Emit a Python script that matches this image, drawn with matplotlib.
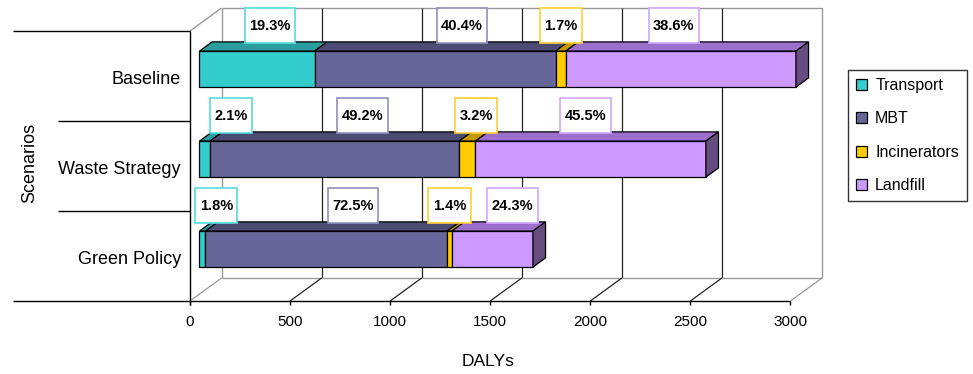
import matplotlib
matplotlib.use("Agg")
import matplotlib.pyplot as plt
from matplotlib import font_manager
from matplotlib.patches import Polygon, Patch
from matplotlib.path import Path

# ---- data (DALYs per scenario and source) ----
scenarios = ["Baseline", "Waste Strategy", "Green Policy"]
sources = ["Transport", "MBT", "Incinerators", "Landfill"]
transport = [575, 53, 30]
mbt = [1204, 1245, 1208]
incinerators = [51, 81, 23]
landfill = [1150, 1151, 405]
x_ticks = [0, 500, 1000, 1500, 2000, 2500, 3000]

series = [transport, mbt, incinerators, landfill]

# ---- styles ----
face_colors = ["#33CCCC", "#666699", "#FFCC00", "#CC99FF"]
top_colors = ["#2A9E9E", "#4B4B73", "#C49A00", "#9C6FCC"]
end_colors = ["#237F7F", "#3F3F60", "#A07E00", "#664D80"]
label_edges = ["#55DDDD", "#9090C0", "#FFD033", "#D0A8FF"]
# horizontal nudges (pixels) of the percentage boxes
label_nudge = [[13, 27, 0, -7], [26, 28, 9, -5], [14, 27, 0, 20]]

names = {f.name for f in font_manager.fontManager.ttflist}
FONT = "DejaVu Sans"
for cand in ["Liberation Sans Narrow", "Liberation Sans", "Arial"]:
    if cand in names:
        FONT = cand
        break
plt.rcParams["font.family"] = [FONT, "DejaVu Sans"]

W, H = 973, 374
fig = plt.figure(figsize=(W / 100, H / 100), dpi=100)
fig.patch.set_facecolor("white")

# front plane of the 3-D box
left, right, top, bottom = 190, 790.5, 31, 301
ax = fig.add_axes([left / W, 1 - bottom / H, (right - left) / W, (bottom - top) / H])
ax.set_xlim(0, 3000)
ax.set_ylim(2.5, -0.5)
ax.axis("off")

ux = 3000 / (right - left)      # data units per pixel (x)
uy = 3.0 / (bottom - top)       # data units per pixel (y, downward)
DX = 31.5 * ux                  # full depth offset
DY = -23 * uy
F0, F1 = 0.3, 0.7               # depth slice taken by the bars
BAR_H = 0.4

grid_dark = "#222222"
edge_gray = "#9A9A9A"


def line(xs, ys, color, lw=1.0, z=1):
    ax.plot(xs, ys, color=color, lw=lw, clip_on=False, zorder=z, solid_capstyle="butt")


def label_box(x0, y0, width, height, mutation_size):
    """Rectangle with a wider vertical than horizontal padding."""
    px, py = 0.3 * mutation_size, 0.72 * mutation_size
    return Path([(x0 - px, y0 - py), (x0 + width + px, y0 - py),
                 (x0 + width + px, y0 + height + py), (x0 - px, y0 + height + py),
                 (x0 - px, y0 - py)], closed=True)


y_top, y_bot = -0.5, 2.5
# back wall
line([DX, DX + 3000, DX + 3000], [y_top + DY, y_top + DY, y_bot + DY], edge_gray)
line([DX, DX], [y_top + DY, y_bot + DY], edge_gray)
for v in x_ticks[1:-1]:
    line([v + DX, v + DX], [y_top + DY, y_bot + DY], grid_dark, 0.9)
# floor
line([DX, DX + 3000], [y_bot + DY, y_bot + DY], edge_gray)
for v in x_ticks:
    c = grid_dark if 0 < v < 3000 else edge_gray
    line([v, v + DX], [y_bot, y_bot + DY], c, 0.9)
# left wall top edge
line([0, DX], [y_top, y_top + DY], edge_gray)

# front axes and category separators
line([0, 0], [y_top, y_bot + 4 * uy], "black", 1.0, 2)
line([-177 * ux, 3000], [y_bot, y_bot], "black", 1.0, 2)
line([-177 * ux, 0], [y_top, y_top], "black", 1.0, 2)
for b in [0.5, 1.5]:
    line([-132 * ux, 0], [b, b], "black", 1.0, 2)
for v in x_ticks:
    line([v, v], [y_bot, y_bot + 4 * uy], "black", 1.0, 2)
    ax.text(v, y_bot + 21 * uy, f"{v}", ha="center", va="center", fontsize=11, clip_on=False)

for i, name in enumerate(scenarios):
    ax.text(-9 * ux, i + 3 * uy, name, ha="right", va="center", fontsize=13)

ax.text(-160 * ux, (163 - top) * uy - 0.5, "Scenarios", rotation=90, ha="center", va="center", fontsize=13)
ax.text((488 - left) * ux, (361 - top) * uy - 0.5, "DALYs", ha="center", va="center", fontsize=12.5)


# 3-D stacked bars
def poly(pts, fc, z):
    ax.add_patch(Polygon(pts, closed=True, facecolor=fc, edgecolor="black",
                         lw=0.9, joinstyle="miter", clip_on=False, zorder=z))


for i in range(len(scenarios)):
    vals = [s[i] for s in series]
    total = sum(vals)
    y0, y1 = i - BAR_H / 2, i + BAR_H / 2
    fx, fy = F0 * DX, F0 * DY
    bx, by = F1 * DX, F1 * DY
    start = 0
    for k, v in enumerate(vals):
        end = start + v
        # top face
        poly([(start + fx, y0 + fy), (end + fx, y0 + fy), (end + bx, y0 + by), (start + bx, y0 + by)],
             top_colors[k], 3)
        # front face
        poly([(start + fx, y0 + fy), (end + fx, y0 + fy), (end + fx, y1 + fy), (start + fx, y1 + fy)],
             face_colors[k], 4)
        if k == len(vals) - 1:
            poly([(end + fx, y0 + fy), (end + bx, y0 + by), (end + bx, y1 + by), (end + fx, y1 + fy)],
                 end_colors[k], 4)
        # percentage label
        pct = 100.0 * v / total
        cx = (start + end) / 2 + fx + label_nudge[i][k] * ux
        cy = y0 + by - 16 * uy
        ax.text(cx, cy, f"{pct:.1f}%", ha="center", va="center", fontsize=10.5,
                fontweight="bold", zorder=6, clip_on=False,
                bbox=dict(boxstyle=label_box, facecolor="white",
                          edgecolor=label_edges[k], lw=1.2))
        start = end

handles = [Patch(facecolor=c, edgecolor="black", lw=0.9) for c in face_colors]
leg = fig.legend(handles, sources, loc="upper left", bbox_to_anchor=(848 / W, 1 - 70 / H),
                 frameon=True, fancybox=False, edgecolor="black", fontsize=11.5,
                 handlelength=0.7, handleheight=0.7, handletextpad=0.5,
                 labelspacing=1.15, borderpad=0.5, borderaxespad=0)
leg.get_frame().set_linewidth(1.0)

fig.savefig("out.png", dpi=100, facecolor="white")
